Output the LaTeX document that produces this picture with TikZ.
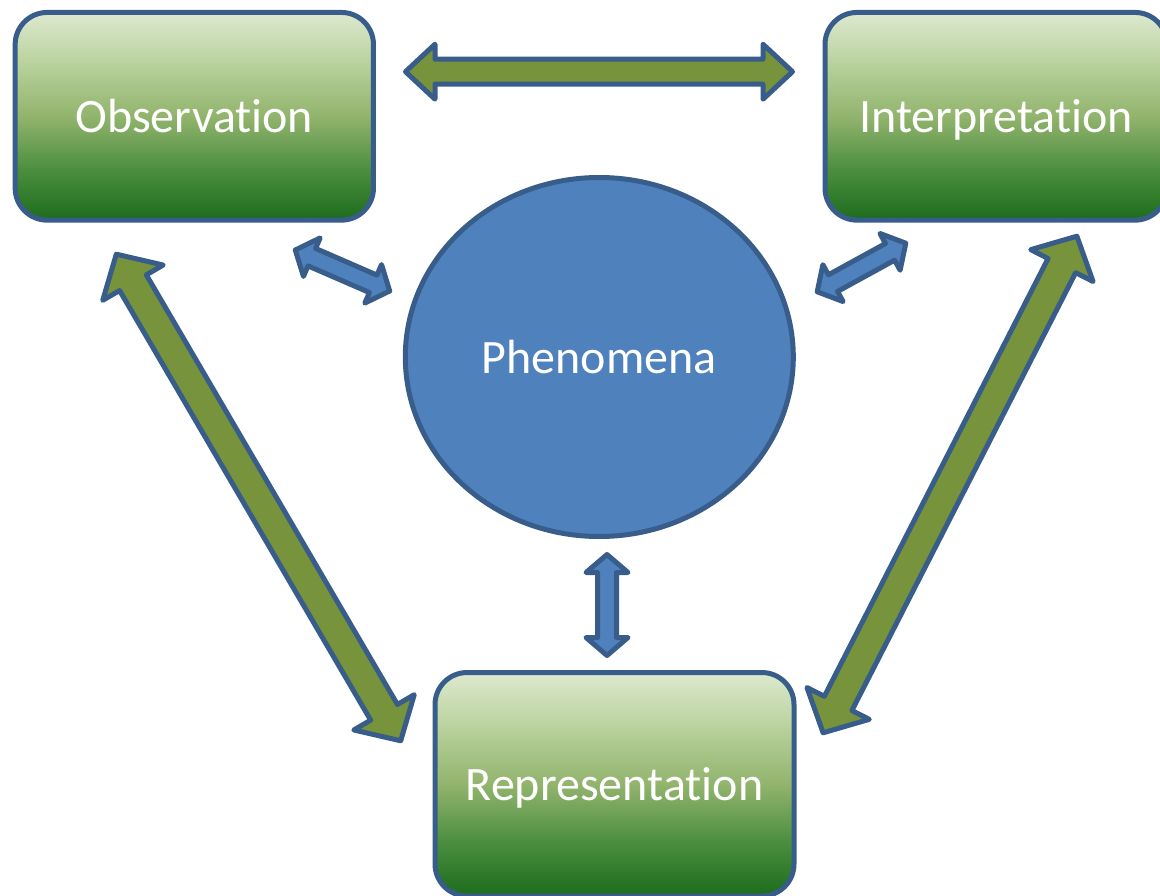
\documentclass[tikz,border=0pt]{standalone}
\usepackage{fontspec}
\setmainfont{Carlito}[Ligatures={NoCommon}]
\usetikzlibrary{calc,shapes.geometric}

\definecolor{edge}{HTML}{385D8A}
\definecolor{bluefill}{HTML}{4F81BD}
\definecolor{olive}{HTML}{77933C}
\definecolor{gDark}{HTML}{1C6C1C}
\definecolor{gMidDark}{HTML}{4D8F40}
\definecolor{gMid}{HTML}{92B46D}
\definecolor{gMidLight}{HTML}{B8D19C}
\definecolor{gLight}{HTML}{DDE9CF}

% light-to-dark green fill of the three boxes (path spans 25bp..75bp)
\pgfdeclareverticalshading{greenbox}{100bp}{%
  color(0bp)=(gDark); color(25bp)=(gDark); color(37.5bp)=(gMidDark);
  color(50bp)=(gMid); color(62.5bp)=(gMidLight); color(75bp)=(gLight);
  color(100bp)=(gLight)}

% block double arrow between two tip points
% #1 style, #2 tip A, #3 tip B, #4 shaft half width, #5 head half width, #6 head length
\newcommand\dblarrow[6]{%
  \draw[#1] (#2)
    -- ($(#2)!#6!(#3)!#5!90:(#3)$) -- ($(#2)!#6!(#3)!#4!90:(#3)$)
    -- ($(#3)!#6!(#2)!#4!-90:(#2)$) -- ($(#3)!#6!(#2)!#5!-90:(#2)$)
    -- (#3)
    -- ($(#3)!#6!(#2)!#5!90:(#2)$) -- ($(#3)!#6!(#2)!#4!90:(#2)$)
    -- ($(#2)!#6!(#3)!#4!-90:(#3)$) -- ($(#2)!#6!(#3)!#5!-90:(#3)$)
    -- cycle;}

\begin{document}
\begin{tikzpicture}[x=1pt, y=-1pt,
  font=\fontsize{48}{57}\selectfont,
  box/.style={draw=edge, line width=5pt, rounded corners=32pt, shading=greenbox,
    text=white, inner sep=0pt, outer sep=0pt, text height=33pt, text depth=0pt},
  hub/.style={ellipse, draw=edge, line width=5pt, fill=bluefill, text=white,
    inner sep=0pt, outer sep=0pt, text height=33pt, text depth=0pt},
  greenarrow/.style={draw=edge, line width=5pt, fill=olive, line join=round},
  bluearrow/.style={draw=edge, line width=5pt, fill=bluefill, line join=round}]

\useasboundingbox (0,0) rectangle (1160,896);
\clip (0,0) rectangle (1160,896);

% boxes and central ellipse
\node[box, minimum width=358.3pt, minimum height=207.7pt] (obs) at (194.3,116.3) {Observation};
\node[box, minimum width=342pt, minimum height=207.7pt] (int) at (996,116.3) {Interpretation};
\node[box, minimum width=359pt, minimum height=223.5pt] (rep) at (614.5,784.3) {Representation};
\node[hub, minimum width=388pt, minimum height=359pt] (phe) at (599.3,357) {Phenomena};

% arrow tips
\coordinate (oiA) at (405.5,71.7);   \coordinate (oiB) at (792.5,71.7);
\coordinate (orA) at (116.3,254.2);  \coordinate (orB) at (400.7,740.8);
\coordinate (irA) at (1076.9,236.2); \coordinate (irB) at (823.1,732.8);
\coordinate (opA) at (295.3,250);    \coordinate (opB) at (389.7,291);
\coordinate (ipA) at (817.2,291.8);  \coordinate (ipB) at (905.8,243.2);
\coordinate (prA) at (607,554.5);    \coordinate (prB) at (607,655.5);

% green arrows between the boxes
\dblarrow{greenarrow}{oiA}{oiB}{12.5pt}{27.5pt}{29.5pt}
\dblarrow{greenarrow}{orA}{orB}{15.5pt}{35pt}{33pt}
\dblarrow{greenarrow}{irA}{irB}{15.5pt}{35pt}{33pt}

% blue arrows to the ellipse
\dblarrow{bluearrow}{opA}{opB}{9.5pt}{21pt}{18pt}
\dblarrow{bluearrow}{ipA}{ipB}{9.5pt}{21pt}{18pt}
\dblarrow{bluearrow}{prA}{prB}{9.5pt}{21pt}{18pt}
\end{tikzpicture}
\end{document}
